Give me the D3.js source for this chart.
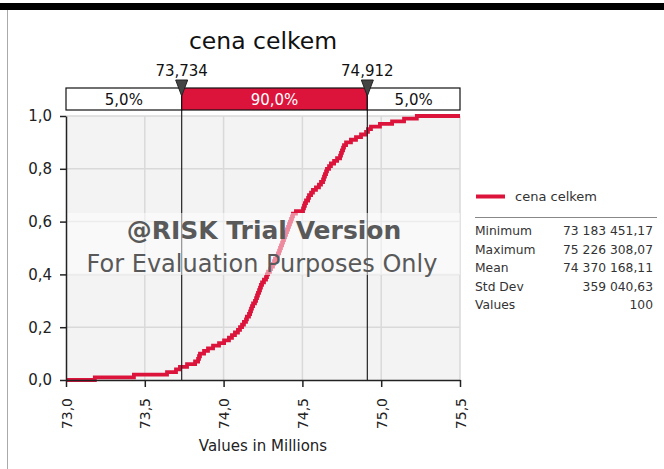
<!DOCTYPE html>
<html><head><meta charset="utf-8">
<script src="https://cdn.jsdelivr.net/npm/d3@7"></script>
<style>
body{margin:0;background:#fff}
svg{display:block}
text{font-family:"DejaVu Sans",Verdana,sans-serif}
</style>
</head><body>
<svg id="c" width="664" height="469"></svg>
<script>
const chartTitle = "cena celkem";
const seriesName = "cena celkem";
const xAxisTitle = "Values in Millions";
// 100 simulated values (millions), sorted
const sortedValues = [
 73.183, 73.431, 73.641, 73.698, 73.723, 73.768, 73.819, 73.838, 73.844, 73.850,
 73.876, 73.901, 73.933, 73.971, 74.003, 74.034, 74.053, 74.072, 74.091, 74.104,
 74.117, 74.129, 74.142, 74.148, 74.161, 74.168, 74.174, 74.180, 74.187, 74.199,
 74.206, 74.212, 74.218, 74.225, 74.231, 74.237, 74.244, 74.256, 74.269, 74.275,
 74.282, 74.294, 74.301, 74.313, 74.320, 74.326, 74.339, 74.345, 74.352, 74.358,
 74.364, 74.371, 74.377, 74.383, 74.390, 74.396, 74.402, 74.409, 74.415, 74.421,
 74.428, 74.434, 74.440, 74.459, 74.504, 74.510, 74.516, 74.523, 74.536, 74.542,
 74.555, 74.567, 74.586, 74.605, 74.618, 74.631, 74.637, 74.643, 74.650, 74.656,
 74.669, 74.681, 74.701, 74.720, 74.739, 74.745, 74.751, 74.758, 74.764, 74.777,
 74.808, 74.840, 74.872, 74.904, 74.916, 74.935, 74.992, 75.069, 75.145, 75.226
];
const markerValues = [73.734, 74.912];
const markerLabels = ["73,734", "74,912"];
const bandLabels = ["5,0%", "90,0%", "5,0%"];
const xDomain = [73.0, 75.5];
const xTickValues = [73.0, 73.5, 74.0, 74.5, 75.0, 75.5];
const yTickValues = [0, 0.2, 0.4, 0.6, 0.8, 1.0];
const statNames = ["Minimum", "Maximum", "Mean", "Std Dev", "Values"];
const statValues = ["73 183 451,17", "75 226 308,07", "74 370 168,11", "359 040,63", "100"];
const watermark1 = "@RISK Trial Version";
const watermark2 = "For Evaluation Purposes Only";

const RED = "#dc143c";
const svg = d3.select("#c");
const fmt = d => d3.format(".1f")(d).replace(".", ",");

const x = d3.scaleLinear().domain(xDomain).range([66, 460]);
const y = d3.scaleLinear().domain([0, 1]).range([380, 116]);

// frame
svg.append("rect").attr("x", 0).attr("y", 3).attr("width", 664).attr("height", 7).attr("fill", "#000");
svg.append("line").attr("x1", 7.5).attr("x2", 7.5).attr("y1", 10).attr("y2", 469).attr("stroke", "#aaa");

// title
svg.append("text").attr("x", 263).attr("y", 49).attr("text-anchor", "middle")
  .attr("font-size", 23.5).attr("fill", "#111").text(chartTitle);

// plot background
svg.append("rect").attr("x", 66).attr("y", 116).attr("width", 394).attr("height", 264).attr("fill", "#f3f3f3");

// grid
svg.append("g").selectAll("line").data(xTickValues.slice(1)).join("line")
  .attr("x1", d => x(d)).attr("x2", d => x(d)).attr("y1", 116).attr("y2", 380)
  .attr("stroke", "#d9d9d9").attr("stroke-width", 1.5);
svg.append("g").selectAll("line").data(yTickValues.slice(1)).join("line")
  .attr("x1", 66).attr("x2", 460).attr("y1", d => y(d)).attr("y2", d => y(d))
  .attr("stroke", "#d9d9d9").attr("stroke-width", 1.5);

// cumulative curve
const pts = [[xDomain[0], 0]].concat(sortedValues.map((v, i) => [v, (i + 1) / sortedValues.length])).concat([[xDomain[1], 1]]);
svg.append("path").datum(pts)
  .attr("d", d3.line().x(d => x(d[0])).y(d => y(d[1])).curve(d3.curveStepAfter))
  .attr("fill", "none").attr("stroke", RED).attr("stroke-width", 3.8);

// marker lines
svg.append("g").selectAll("line").data(markerValues).join("line")
  .attr("x1", d => x(d)).attr("x2", d => x(d)).attr("y1", 88).attr("y2", 380)
  .attr("stroke", "#222").attr("stroke-width", 1.2);

// watermark
svg.append("rect").attr("x", 66).attr("y", 213).attr("width", 394).attr("height", 62)
  .attr("fill", "#fff").attr("opacity", 0.5);
svg.append("text").attr("x", 264).attr("y", 239).attr("text-anchor", "middle")
  .attr("font-size", 25).attr("font-weight", "bold").attr("fill", "#595959").text(watermark1);
svg.append("text").attr("x", 262).attr("y", 272).attr("text-anchor", "middle")
  .attr("font-size", 24).attr("fill", "#595959").text(watermark2);

// axes
const yAxis = svg.append("g").attr("transform", "translate(66,0)")
  .call(d3.axisLeft(y).tickValues(yTickValues).tickFormat(fmt).tickSize(6).tickSizeOuter(0).tickPadding(8));
yAxis.selectAll("text").attr("font-size", 15).attr("fill", "#222").style("font-family", "DejaVu Sans");
yAxis.selectAll("line,path").attr("stroke", "#222").attr("stroke-width", 1.5);

const xAxis = svg.append("g").attr("transform", "translate(0,380)")
  .call(d3.axisBottom(x).tickValues(xTickValues).tickFormat(fmt).tickSize(7).tickSizeOuter(0));
xAxis.selectAll("text").attr("transform", "rotate(-90)").attr("x", -18).attr("y", 0).attr("dy", "0.36em")
  .style("text-anchor", "end").attr("font-size", 14).attr("fill", "#222").style("font-family", "DejaVu Sans");
xAxis.selectAll("line,path").attr("stroke", "#222").attr("stroke-width", 1.5);

svg.append("text").attr("x", 263).attr("y", 451).attr("text-anchor", "middle")
  .attr("font-size", 15).attr("fill", "#222").text(xAxisTitle);

// top percentage band
const edges = [xDomain[0]].concat(markerValues).concat([xDomain[1]]);
const segs = bandLabels.map((l, i) => ({l, a: edges[i], b: edges[i + 1], mid: i === 1}));
const band = svg.append("g");
band.selectAll("rect").data(segs).join("rect")
  .attr("x", d => x(d.a)).attr("width", d => x(d.b) - x(d.a)).attr("y", 88).attr("height", 22)
  .attr("fill", d => d.mid ? RED : "#fff").attr("stroke", "#111").attr("stroke-width", 1.2);
band.selectAll("text").data(segs).join("text")
  .attr("x", d => (x(d.a) + x(d.b)) / 2).attr("y", 105).attr("text-anchor", "middle")
  .attr("font-size", 15).attr("fill", d => d.mid ? "#fff" : "#111").text(d => d.l);

// markers
svg.append("g").selectAll("path").data(markerValues).join("path")
  .attr("d", d => `M${x(d) - 6},80 L${x(d) + 6},80 L${x(d)},96 Z`)
  .attr("fill", "#444").attr("stroke", "#222");
svg.append("g").selectAll("text").data(markerValues).join("text")
  .attr("x", d => x(d)).attr("y", 76).attr("text-anchor", "middle")
  .attr("font-size", 15).attr("fill", "#111").text((d, i) => markerLabels[i]);

// legend
svg.append("line").attr("x1", 476).attr("x2", 505).attr("y1", 196.5).attr("y2", 196.5)
  .attr("stroke", RED).attr("stroke-width", 4);
svg.append("text").attr("x", 515).attr("y", 200.5).attr("font-size", 13).attr("fill", "#333").text(seriesName);
svg.append("line").attr("x1", 475).attr("x2", 657).attr("y1", 217.5).attr("y2", 217.5).attr("stroke", "#888");
const st = svg.append("g");
st.selectAll("text.n").data(statNames).join("text").attr("class", "n")
  .attr("x", 475).attr("y", (d, i) => 235 + i * 18.5).attr("font-size", 12.3).attr("fill", "#333").text(d => d);
st.selectAll("text.v").data(statValues).join("text").attr("class", "v")
  .attr("x", 653).attr("y", (d, i) => 235 + i * 18.5).attr("text-anchor", "end")
  .attr("font-size", 12.3).attr("fill", "#333").text(d => d);
</script>
</body></html>
